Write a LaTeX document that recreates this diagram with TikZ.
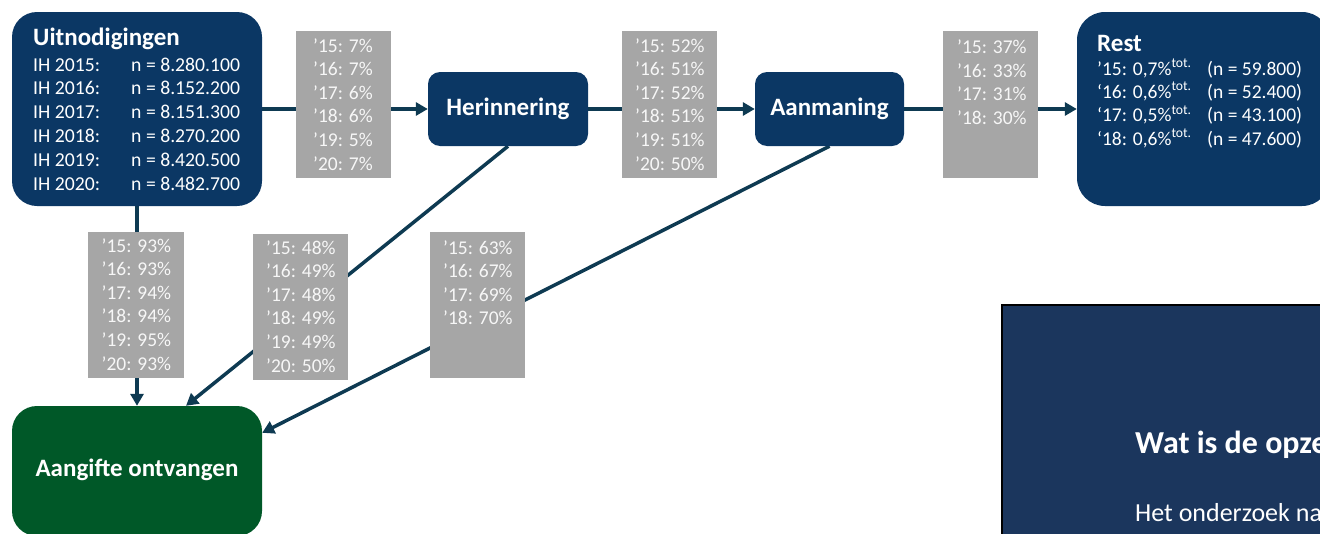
\documentclass[tikz,border=0pt]{standalone}
\usepackage{fontspec}
\setmainfont{Carlito}
\usetikzlibrary{arrows.meta,backgrounds}
\definecolor{navy}{RGB}{11,55,100}
\definecolor{conn}{RGB}{14,58,82}
\definecolor{graybox}{RGB}{166,166,166}
\definecolor{aggreen}{RGB}{0,88,40}
\definecolor{panel}{RGB}{27,54,93}
\newcommand\pctlines[1]{\begin{tabular}[t]{@{}l@{}}#1\end{tabular}}
\tikzset{
  navybox/.style={fill=navy, rounded corners=#1, inner sep=0, text=white},
  pctbox/.style={fill=graybox, inner sep=0, minimum width=95, minimum height=147},
  pcttxt/.style={text=white!94!gray, inner sep=0, anchor=base west,
     font=\fontsize{19.5}{23.6}\selectfont},
  wtxt/.style={text=white, inner sep=0, anchor=base west},
  conn/.style={draw=conn, line width=3.5pt, -{Triangle[length=12pt,width=13pt]}},
}
\begin{document}
\begin{tikzpicture}[x=1pt,y=-1pt]
\useasboundingbox (0,0) rectangle (1320,533);
\clip (0,0) rectangle (1320,533);

% main boxes
\node[navybox=25, minimum width=250, minimum height=194] (uit) at (137,109) {};
\node[wtxt, font=\fontsize{25}{28}\selectfont\bfseries] (uittitle) at (33,45) {Uitnodigingen};
\node[wtxt, font=\fontsize{19.7}{23.8}\selectfont] (uitrows) at (33,71)
 {\begin{tabular}[t]{@{}p{98pt}@{}l@{}}
 IH 2015: & n = 8.280.100\\
 IH 2016: & n = 8.152.200\\
 IH 2017: & n = 8.151.300\\
 IH 2018: & n = 8.270.200\\
 IH 2019: & n = 8.420.500\\
 IH 2020: & n = 8.482.700
 \end{tabular}};

\node[navybox=12, minimum width=160, minimum height=74,
      font=\fontsize{25}{28}\selectfont\bfseries] (her) at (508,109) {Herinnering};
\node[navybox=12, minimum width=149, minimum height=74,
      font=\fontsize{25}{28}\selectfont\bfseries] (aan) at (829.5,109) {Aanmaning};

\node[navybox=28, minimum width=253, minimum height=194] (rest) at (1203.5,109) {};
\node[wtxt, font=\fontsize{25}{28}\selectfont\bfseries] (resttitle) at (1097,51) {Rest};
\node[wtxt, font=\fontsize{19.5}{23.4}\selectfont] (restrows) at (1097,75)
 {\begin{tabular}[t]{@{}p{110pt}@{}l@{}}
 ’15: 0,7\%\textsuperscript{tot.} & (n = 59.800)\\
 ‘16: 0,6\%\textsuperscript{tot.} & (n = 52.400)\\
 ‘17: 0,5\%\textsuperscript{tot.} & (n = 43.100)\\
 ‘18: 0,6\%\textsuperscript{tot.} & (n = 47.600)
 \end{tabular}};

\node[fill=aggreen, rounded corners=25, inner sep=0, minimum width=250, minimum height=130] (ang) at (137,471) {};
\node[text=white, inner sep=0, font=\fontsize{25}{28}\selectfont\bfseries] (angtxt) at (137,470) {Aangifte ontvangen};

% percentage boxes
\node[pctbox] (g1) at (343.5,104.5) {};
\node[pcttxt] (g1t) at (313,52) {\pctlines{’15: 7\%\\ ’16: 7\%\\ ’17: 6\%\\ ’18: 6\%\\ ’19: 5\%\\ ’20: 7\%}};
\node[pctbox] (g2) at (669.5,104.5) {};
\node[pcttxt] (g2t) at (635,52) {\pctlines{’15: 52\%\\ ’16: 51\%\\ ’17: 52\%\\ ’18: 51\%\\ ’19: 51\%\\ ’20: 50\%}};
\node[pctbox] (g3) at (990.5,104.5) {};
\node[pcttxt] (g3t) at (957,53.5) {\pctlines{’15: 37\%\\ ’16: 33\%\\ ’17: 31\%\\ ’18: 30\%}};
\node[pctbox, minimum width=96, minimum height=146] (g4) at (136,305) {};
\node[pcttxt] (g4t) at (101.5,252) {\pctlines{’15: 93\%\\ ’16: 93\%\\ ’17: 94\%\\ ’18: 94\%\\ ’19: 95\%\\ ’20: 93\%}};
\node[pctbox, minimum height=146] (g5) at (300.5,307) {};
\node[pcttxt] (g5t) at (266,254) {\pctlines{’15: 48\%\\ ’16: 49\%\\ ’17: 48\%\\ ’18: 49\%\\ ’19: 49\%\\ ’20: 50\%}};
\node[pctbox, minimum height=146] (g6) at (477.5,305) {};
\node[pcttxt] (g6t) at (443,254) {\pctlines{’15: 63\%\\ ’16: 67\%\\ ’17: 69\%\\ ’18: 70\%}};

% connectors
\begin{scope}[on background layer]
\draw[conn] (uit.east) -- (her.west);
\draw[conn] (her.east) -- (aan.west);
\draw[conn] (aan.east) -- (rest.west);
\draw[conn] (uit.south) -- (ang.north);
\draw[conn] (her.south) -- ([xshift=49pt]ang.north);
\draw[conn] (aan.south) -- ([yshift=-27pt]ang.north east);
\end{scope}

% info panel
\node[fill=panel, draw=black, line width=2pt, inner sep=0, minimum width=340, minimum height=240,
      anchor=north west] (panel) at (1001,304) {};
\node[wtxt, font=\fontsize{32}{36}\selectfont\bfseries] (paneltitle) at (1135,453) {Wat is de opzet};
\node[wtxt, font=\fontsize{26}{30}\selectfont] (paneltext) at (1135,521) {Het onderzoek naar};
\end{tikzpicture}
\end{document}
